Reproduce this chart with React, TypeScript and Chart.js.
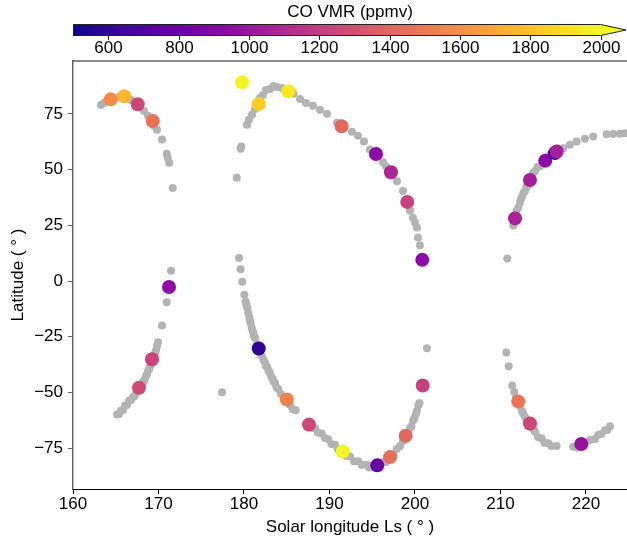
import { useEffect, useRef } from "react";
import { Chart, registerables } from "chart.js";

Chart.register(...registerables);

const FONT = '"Liberation Sans", Arial, Helvetica, sans-serif';

const xTicks = [160, 170, 180, 190, 200, 210, 220];
const yTicks = [-75, -50, -25, 0, 25, 50, 75];
const cbTicks = [600, 800, 1000, 1200, 1400, 1600, 1800, 2000];
const cbMin = 500;
const cbMax = 2000;
const xTitle = "Solar longitude Ls ( \u00b0 )";
const yTitle = "Latitude ( \u00b0 )";
const cbTitle = "CO VMR (ppmv)";

// all observed track points (grey)
const greyLs = [
  163.27, 163.63, 163.98, 164.68, 165.38, 166.2, 166.78, 167.25, 167.84, 168.3, 168.77, 169.12, 169.47, 169.82, 170.41, 170.96, 171.08, 171.26, 171.66,
  171.46, 170.96, 170.41, 169.94, 169.82, 169.59, 169.24, 169.01, 168.77, 168.54, 168.19, 167.84, 167.37, 167.02, 166.55, 166.08, 165.61, 165.15,
  165.38, 165.85, 166.32, 166.78, 167.19, 167.6, 168.01, 168.36, 168.65, 168.89, 169.12, 169.42, 169.71,
  179.15, 179.61, 179.68, 180.35, 180.58, 180.94, 181.29, 181.64, 182.22, 183.04, 183.86, 184.44, 185.8, 186.55, 187.25, 188.07, 188.89, 189.71, 190.88, 192.63, 193.33, 194.04, 194.74, 195.56, 196.26, 196.61, 197.89, 198.6, 199.42, 199.77, 200.0, 200.23, 200.35, 200.58,
  181.87, 182.57, 183.45,
  179.42, 179.61, 179.8, 180.04, 180.2, 180.39, 180.62, 180.78, 180.9, 181.09, 181.29, 182.07, 182.46, 182.73, 183.04, 183.36, 183.63, 184.01, 185.38, 186.05, 188.3, 189.09, 189.86, 190.64, 192.4, 193.37, 194.35, 194.97, 196.22, 197.86, 199.42, 199.8, 200.12, 200.39,
  180.29, 180.5, 180.7, 180.99, 181.17, 181.52, 181.87, 182.28, 182.57, 182.87, 183.22, 183.51, 183.8, 184.33, 184.68, 185.67,
  187.95, 188.65, 189.47, 190.23, 190.99, 191.93, 192.87, 193.8, 194.62, 195.32, 196.61, 197.49, 198.25, 198.6, 199.18, 199.59, 199.94, 200.23, 200.53,
  177.43, 201.4,
  210.8, 211.5, 212.08, 212.28, 212.51, 212.87, 213.22, 214.04, 214.62, 215.79, 217.35, 218.13, 218.91, 219.88, 220.85, 222.42, 223.19, 223.98, 224.56,
  211.7, 211.87, 212.4, 212.69, 213.04, 213.57, 213.8, 214.33, 214.97, 215.44, 216.14, 216.73,
  210.68, 210.96, 211.38, 211.61, 212.67, 213.06, 213.9, 214.04, 214.82, 215.59, 216.57, 218.51, 220.47, 221.44, 222.22, 222.81,
  211.81, 212.28, 212.51, 212.87, 213.27, 213.68, 214.39, 215.15, 215.96, 218.95, 219.88, 221.05, 221.81, 222.51,
];
const greyLat = [
  79.0, 79.9, 80.8, 82.1, 82.6, 82.6, 81.2, 80.3, 78.6, 76.3, 74.1, 71.9, 69.7, 67.9, 63.5, 57.1, 55.2, 53.0, 41.7,
  4.6, -9.5, -20.0, -27.5, -29.3, -32.5, -36.0, -38.2, -40.4, -42.6, -45.3, -47.5, -50.2, -52.0, -53.7, -56.0, -58.2, -59.9,
  -59.7, -57.9, -55.6, -53.4, -51.6, -49.3, -46.9, -44.4, -41.9, -39.7, -37.5, -34.5, -31.2,
  46.3, 59.3, 60.4, 70.1, 72.3, 74.6, 77.2, 79.4, 83.4, 86.1, 87.0, 86.6, 84.0, 81.7, 79.9, 78.6, 76.8, 75.0, 71.0, 67.0, 65.2, 62.6, 59.0, 56.4, 53.3, 51.5, 44.8, 40.4, 31.5, 28.4, 26.2, 24.0, 19.5, 16.0,
  82.1, 85.7, 87.5,
  10.3, 5.3, -0.3, -6.2, -9.2, -12.1, -16.1, -18.8, -21.0, -23.2, -25.4, -33.6, -36.5, -38.7, -41.3, -43.9, -45.7, -48.4, -55.5, -58.0, -66.1, -68.4, -71.0, -73.5, -78.7, -80.9, -82.4, -83.0, -81.2, -75.3, -66.1, -62.5, -59.5, -55.8,
  -10.8, -14.4, -17.7, -22.2, -24.7, -28.3, -32.3, -35.4, -38.1, -40.4, -43.1, -45.3, -47.6, -50.7, -52.5, -57.4,
  -65.9, -68.0, -70.4, -73.1, -75.6, -78.5, -80.8, -82.5, -83.7, -83.9, -81.2, -78.1, -74.0, -71.8, -68.2, -65.1, -61.5, -58.3, -54.7,
  -49.9, -30.2,
  10.1, 24.9, 33.0, 35.2, 37.7, 40.4, 43.1, 49.3, 51.5, 56.7, 59.6, 61.1, 62.6, 63.8, 64.8, 65.8, 66.0, 66.1, 66.3,
  29.6, 31.4, 36.8, 39.5, 42.2, 46.7, 48.5, 51.1, 53.4, 55.6, 58.3, 59.4,
  -32.1, -38.2, -46.9, -49.8, -59.5, -62.5, -66.5, -67.6, -70.6, -72.8, -74.0, -74.3, -71.3, -69.1, -66.9, -65.1,
  -52.5, -56.1, -58.3, -61.0, -63.9, -65.9, -70.0, -72.5, -74.0, -74.7, -73.1, -70.9, -68.6, -66.8,
];

// CO retrievals (coloured)
const coLs = [
  164.41, 166.0, 167.57, 169.32, 171.23, 169.24, 167.72,
  179.77, 181.72, 185.18, 191.42, 195.44, 197.19, 199.1, 200.85,
  181.72, 185.0, 187.6, 191.54, 195.59, 197.08, 198.91, 200.9,
  211.7, 213.45, 215.24, 216.37, 216.57, 212.08, 213.45, 219.45,
];
const coLat = [
  81.5, 82.9, 79.3, 71.8, -2.7, -35.1, -47.9,
  89.2, 79.4, 85.1, 69.4, 57.0, 48.8, 35.5, 9.5,
  -30.3, -53.1, -64.4, -76.5, -82.7, -79.0, -69.4, -46.9,
  28.1, 45.3, 54.0, 57.4, 58.1, -54.0, -63.9, -73.1,
];
const coVmr = [
  1580, 1760, 1250, 1470, 940, 1240, 1270,
  1990, 1850, 1940, 1420, 940, 1080, 1220, 940,
  600, 1540, 1250, 1990, 800, 1440, 1420, 1220,
  1060, 1040, 940, 620, 1050, 1480, 1240, 980,
];

const plasmaStops = [
  "#0d0887", "#41049d", "#6a00a8", "#8f0da4", "#b12a90", "#cc4778",
  "#e16462", "#f2844b", "#fca636", "#fcce25", "#f0f921",
];

function hexToRgb(h: string) {
  return [parseInt(h.slice(1, 3), 16), parseInt(h.slice(3, 5), 16), parseInt(h.slice(5, 7), 16)];
}

function plasma(t: number) {
  const c = Math.max(0, Math.min(1, t)) * (plasmaStops.length - 1);
  const i = Math.min(Math.floor(c), plasmaStops.length - 2);
  const f = c - i;
  const a = hexToRgb(plasmaStops[i]);
  const b = hexToRgb(plasmaStops[i + 1]);
  const m = a.map((v, k) => Math.round(v + (b[k] - v) * f));
  return `rgb(${m[0]},${m[1]},${m[2]})`;
}

const vmrColor = (v: number) => plasma((v - cbMin) / (cbMax - cbMin));

const fmt = (v: number) => (v < 0 ? "\u2212" + Math.abs(v) : String(v));

const colorbarPlugin = {
  id: "colorbar",
  afterDraw(chart: any) {
    const { ctx, chartArea } = chart;
    const { left, right, top: aTop } = chartArea;
    ctx.save();
    // top spine
    ctx.strokeStyle = "rgba(0,0,0,0.6)";
    ctx.lineWidth = 1.5;
    ctx.beginPath();
    ctx.moveTo(left, aTop);
    ctx.lineTo(right, aTop);
    ctx.stroke();

    const barW = (right - left) / 1.05;
    const x0 = left;
    const x1 = left + barW;
    const top = 24;
    const bot = 36;
    const mid = (top + bot) / 2;
    const g = ctx.createLinearGradient(x0, 0, x1, 0);
    plasmaStops.forEach((c, i) => g.addColorStop(i / (plasmaStops.length - 1), c));
    ctx.fillStyle = g;
    ctx.fillRect(x0, top, barW, bot - top);
    ctx.fillStyle = plasmaStops[plasmaStops.length - 1];
    ctx.beginPath();
    ctx.moveTo(x1, top);
    ctx.lineTo(right - 1, mid);
    ctx.lineTo(x1, bot);
    ctx.closePath();
    ctx.fill();
    ctx.strokeStyle = "#222";
    ctx.lineWidth = 1;
    ctx.beginPath();
    ctx.moveTo(x0 + 0.5, top + 0.5);
    ctx.lineTo(x1, top + 0.5);
    ctx.lineTo(right - 1, mid);
    ctx.lineTo(x1, bot - 0.5);
    ctx.lineTo(x0 + 0.5, bot - 0.5);
    ctx.closePath();
    ctx.stroke();

    ctx.fillStyle = "#000";
    ctx.font = `17px ${FONT}`;
    ctx.textAlign = "center";
    ctx.textBaseline = "top";
    cbTicks.forEach((v) => {
      const x = Math.round(x0 + ((v - cbMin) / (cbMax - cbMin)) * barW) + 0.5;
      ctx.beginPath();
      ctx.moveTo(x, bot);
      ctx.lineTo(x, bot + 4);
      ctx.stroke();
      ctx.fillText(String(v), x, bot + 4);
    });
    ctx.textBaseline = "middle";
    ctx.fillText(cbTitle, (left + right) / 2, 12);
    ctx.restore();
  },
};

export default function App() {
  const ref = useRef<HTMLCanvasElement>(null);
  useEffect(() => {
    if (!ref.current) return;
    const grey = greyLs.map((x, i) => ({ x, y: greyLat[i] }));
    const co = coLs.map((x, i) => ({ x, y: coLat[i] }));
    const chart = new Chart(ref.current, {
      type: "scatter",
      data: {
        datasets: [
          {
            data: co,
            pointRadius: 7,
            pointHoverRadius: 7,
            pointBackgroundColor: coVmr.map(vmrColor),
            pointBorderWidth: 0,
            borderWidth: 0,
          },
          {
            data: grey,
            pointRadius: 4,
            pointHoverRadius: 4,
            pointBackgroundColor: "#b3b3b3",
            pointBorderWidth: 0,
            borderWidth: 0,
          },
        ],
      },
      options: {
        responsive: false,
        animation: false,
        devicePixelRatio: 1,
        events: [],
        layout: { autoPadding: false, padding: { top: 61, left: 0, right: 0, bottom: 0 } },
        plugins: { legend: { display: false }, tooltip: { enabled: false } },
        scales: {
          x: {
            type: "linear",
            min: 160,
            max: 224.8,
            afterBuildTicks: (s: any) => {
              s.ticks = xTicks.map((value) => ({ value }));
            },
            afterFit: (s: any) => {
              s.height = 53;
              s.paddingLeft = 0;
              s.paddingRight = 0;
            },
            grid: { drawOnChartArea: false, tickLength: 5, color: "#000" },
            border: { color: "#000", width: 1 },
            ticks: { color: "#000", padding: 0, font: { family: FONT, size: 17 }, maxRotation: 0, callback: (v: any) => fmt(v) },
            title: { display: true, text: xTitle, color: "#000", font: { family: FONT, size: 17 }, padding: { top: 0, bottom: 4 } },
          },
          y: {
            type: "linear",
            min: -93.3,
            max: 98.7,
            afterBuildTicks: (s: any) => {
              s.ticks = yTicks.map((value) => ({ value }));
            },
            afterFit: (s: any) => {
              s.width = 73;
              s.paddingTop = 0;
              s.paddingBottom = 0;
            },
            grid: { drawOnChartArea: false, tickLength: 5, color: "rgba(0,0,0,0.6)" },
            border: { color: "rgba(0,0,0,0.6)", width: 1.5 },
            ticks: { color: "#000", padding: 5, font: { family: FONT, size: 17 }, callback: (v: any) => fmt(v) },
            title: { display: true, text: yTitle, color: "#000", font: { family: FONT, size: 17 }, padding: { top: 8, bottom: 0 } },
          },
        },
      },
      plugins: [colorbarPlugin],
    });
    return () => chart.destroy();
  }, []);
  return (
    <div style={{ position: "absolute", left: 0, top: 0, width: 627, height: 542 }}>
      <canvas ref={ref} width={627} height={542} style={{ display: "block" }} />
    </div>
  );
}
